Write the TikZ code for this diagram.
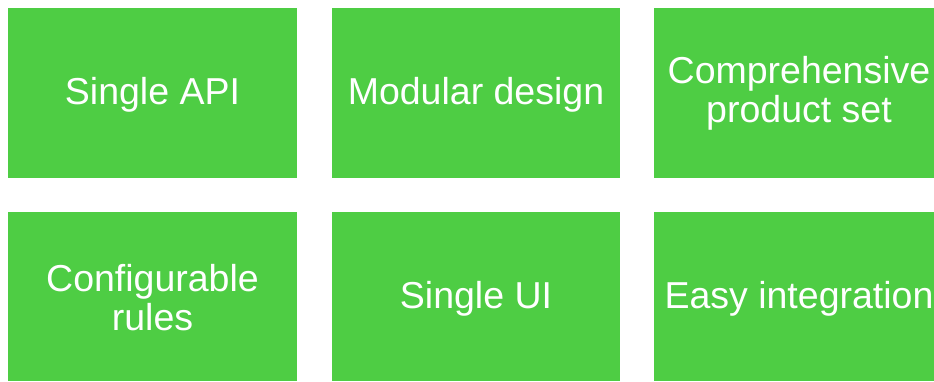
\documentclass[tikz,border=0pt]{standalone}
\usepackage{fontspec}
\setmainfont{Liberation Sans}
\definecolor{boxgreen}{HTML}{4ECD44}
\begin{document}
\begin{tikzpicture}[x=1pt,y=-1pt,
  cell/.style={fill=boxgreen, draw=none, inner sep=0pt},
  lbl/.style={inner sep=0pt, text=white, align=center,
    font=\fontsize{37.5}{39.5}\selectfont}]
\useasboundingbox (0,0) rectangle (934,381);
\fill[white] (0,0) rectangle (934,381);
\node[cell, minimum width=289pt, minimum height=170pt] (a) at (152.5,92.5) {};
\node[cell, minimum width=288pt, minimum height=170pt] (b) at (476,92.5) {};
\node[cell, minimum width=280pt, minimum height=170pt] (c) at (794,92.5) {};
\node[cell, minimum width=289pt, minimum height=169pt] (d) at (152.5,296.5) {};
\node[cell, minimum width=288pt, minimum height=169pt] (e) at (476,296.5) {};
\node[cell, minimum width=280pt, minimum height=169pt] (f) at (794,296.5) {};
\node[lbl] (ta) at ([yshift=-2pt]a.center) {Single API};
\node[lbl] (tb) at ([yshift=-2pt]b.center) {Modular design};
\node[lbl] (tc) at ([xshift=5pt,yshift=-1pt]c.center) {Comprehensive\\product set};
\node[lbl] (td) at ([yshift=-1pt]d.center) {Configurable\\rules};
\node[lbl] (te) at ([yshift=-2pt]e.center) {Single UI};
\node[lbl] (tf) at ([xshift=5pt,yshift=-2pt]f.center) {Easy integration};
\end{tikzpicture}
\end{document}
